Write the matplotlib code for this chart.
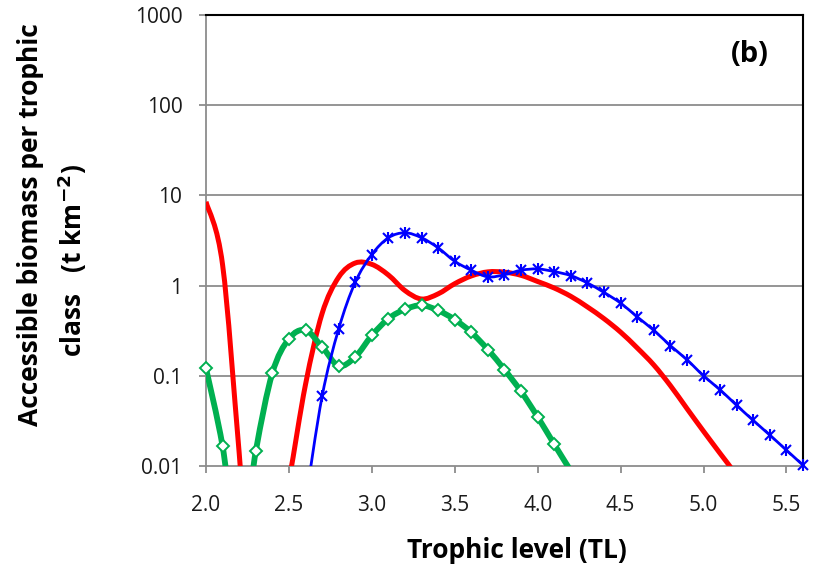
import numpy as np
import matplotlib
matplotlib.use("Agg")
import matplotlib.pyplot as plt
from matplotlib.path import Path
from matplotlib.patches import PathPatch

plt.rcParams["font.family"] = ["Open Sans", "DejaVu Sans"]

# trophic level classes (every 0.1 TL)
TL = [2.0, 2.1, 2.2, 2.3, 2.4, 2.5, 2.6, 2.7, 2.8, 2.9,
      3.0, 3.1, 3.2, 3.3, 3.4, 3.5, 3.6, 3.7, 3.8, 3.9,
      4.0, 4.1, 4.2, 4.3, 4.4, 4.5, 4.6, 4.7, 4.8, 4.9,
      5.0, 5.1, 5.2, 5.3, 5.4, 5.5, 5.6]
nan = np.nan

# accessible biomass (t km-2)
red = [8.5, 1.7, 0.014, 1e-4, 0.0008, 0.0068, 0.08, 0.49, 1.24, 1.78,
       1.72, 1.31, 0.88, 0.71, 0.81, 1.05, 1.28, 1.42, 1.41, 1.30,
       1.11, 0.94, 0.76, 0.58, 0.43, 0.305, 0.204, 0.132, 0.078, 0.0434,
       0.0243, 0.0138, 0.0078, 0.004, nan, nan, nan]
green = [0.121, 0.0166, 0.001, 0.0145, 0.107, 0.257, 0.32, 0.209, 0.129, 0.162,
         0.28, 0.43, 0.546, 0.605, 0.53, 0.42, 0.303, 0.195, 0.117, 0.067,
         0.035, 0.0174, 0.0088, nan, nan, nan, nan, nan, nan, nan,
         nan, nan, nan, nan, nan, nan, nan]
blue = [nan, nan, nan, nan, nan, nan, 0.004, 0.059, 0.33, 1.09,
        2.21, 3.39, 3.85, 3.39, 2.62, 1.86, 1.48, 1.25, 1.32, 1.48,
        1.53, 1.43, 1.29, 1.07, 0.84, 0.64, 0.45, 0.32, 0.216, 0.151,
        0.10, 0.07, 0.047, 0.032, 0.022, 0.015, 0.0102]

YTICKS = [0.01, 0.1, 1, 10, 100, 1000]
YLABELS = ["0.01", "0.1", "1", "10", "100", "1000"]
XTICKS = [2.0, 2.5, 3.0, 3.5, 4.0, 4.5, 5.0, 5.5]
YMIN, YMAX = 0.01, 1000


def valid(x, y):
    x = np.asarray(x, float)
    y = np.asarray(y, float)
    ok = ~np.isnan(y)
    return x[ok], y[ok]


def smooth_path(x, y):
    """Excel-like smoothed line (Catmull-Rom bezier in log space)."""
    P = np.column_stack([x, np.log10(y)])
    n = len(P)
    verts = [P[0]]
    codes = [Path.MOVETO]
    for i in range(n - 1):
        p0 = P[i - 1] if i > 0 else P[i]
        p3 = P[i + 2] if i + 2 < n else P[i + 1]
        verts += [P[i] + (P[i + 1] - p0) / 6, P[i + 1] - (p3 - P[i]) / 6, P[i + 1]]
        codes += [Path.CURVE4] * 3
    verts = np.array(verts)
    verts[:, 1] = 10 ** verts[:, 1]
    return Path(verts, codes)


fig = plt.figure(figsize=(8.25, 5.74), dpi=100)
ax = fig.add_axes([206 / 825, 1 - 466 / 574, 597 / 825, 451 / 574])
ax.set_yscale("log")
ax.set_xlim(2.0, 5.6)
ax.set_ylim(YMIN, YMAX)

for yv in YTICKS[1:]:
    ax.axhline(yv, color="#8c8c8c", lw=1.3, zorder=1)

x, y = valid(TL, red)
ax.add_patch(PathPatch(smooth_path(x, y), fill=False, edgecolor="#ff0000", lw=3.6, zorder=3,
                       capstyle="butt"))

# markers are only shown inside the axis range (as in Excel)
x, y = valid(TL, green)
ax.add_patch(PathPatch(smooth_path(x, y), fill=False, edgecolor="#00b050", lw=4.2, zorder=4,
                       capstyle="butt"))
m = y >= YMIN
ax.plot(x[m], y[m], ls="none", marker="D", ms=6.5, mfc="white", mec="#00b050", mew=1.4,
        zorder=5, clip_on=False)

x, y = valid(TL, blue)
ax.add_patch(PathPatch(smooth_path(x, y), fill=False, edgecolor="#0000ff", lw=2.0, zorder=6,
                       capstyle="butt"))
m = y >= YMIN
ax.plot(x[m], y[m], ls="none", marker="x", ms=7.5, mec="#0000ff", mew=1.5, zorder=7, clip_on=False)
ax.plot(x[m], y[m], ls="none", marker="|", ms=9, mec="#0000ff", mew=1.5, zorder=7, clip_on=False)

ax.set_yticks(YTICKS)
ax.set_yticklabels(YLABELS)
ax.minorticks_off()
ax.set_xticks(XTICKS)
ax.set_xticklabels([f"{t:.1f}" for t in XTICKS])
ax.tick_params(axis="y", direction="out", length=5, width=1.3, color="#8c8c8c",
               pad=12, labelsize=15, labelcolor="#1a1a1a")
ax.tick_params(axis="x", direction="out", length=5, width=1.3, color="#8c8c8c",
               pad=16, labelsize=15, labelcolor="#1a1a1a")

for side in ["left", "bottom"]:
    ax.spines[side].set_color("#8c8c8c")
    ax.spines[side].set_linewidth(1.3)
    ax.spines[side].set_zorder(2)
for side in ["top", "right"]:
    ax.spines[side].set_color("black")
    ax.spines[side].set_linewidth(1.5)

fig.text(750 / 825, 1 - 54 / 574, "(b)", fontsize=21, fontweight="bold",
         ha="center", va="center")

fig.text(31 / 825, 1 - 225 / 574, "Accessible biomass per trophic", rotation=90,
         fontsize=19, fontweight="bold", ha="center", va="center")
fig.text(72 / 825, 1 - 260 / 574, "class   (t km$^{\\mathbf{-2}}$)", rotation=90,
         fontsize=19, fontweight="bold", ha="center", va="center")
fig.text(517 / 825, 1 - 551 / 574, "Trophic level (TL)", fontsize=19,
         fontweight="bold", ha="center", va="center")

fig.savefig("out.png", dpi=100)
